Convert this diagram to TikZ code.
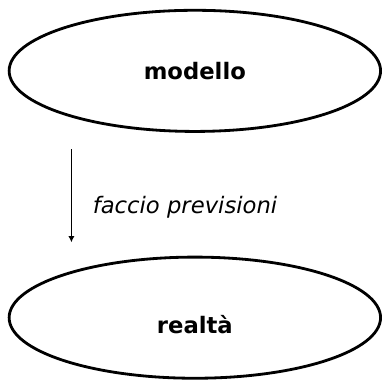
\documentclass[tikz,border=0pt]{standalone}
\usepackage{fontspec}
\setmainfont{DejaVu Sans}
\usetikzlibrary{arrows.meta,positioning,shapes.geometric}

\begin{document}
\begin{tikzpicture}[font=\fontsize{11.3}{13}\selectfont,
    el/.style={ellipse, draw, line width=1.4pt, minimum width=6.5cm,
      minimum height=2.12cm, inner sep=0pt, font=\fontsize{11.3}{13}\selectfont\bfseries},
    fr/.style={-{Latex[length=1.1mm,width=1.1mm]}, line width=0.5pt}]
    \useasboundingbox (0,0) rectangle (6.72,-6.72);
    \node[el] (modello) at (3.41,-1.24) {modello};
    \node[el, below=2.15cm of modello, text height=0.56cm] (realta) {realtà};
    \coordinate (inizio) at (1.25,-2.61);
    \coordinate (fine) at (1.25,-4.24);
    \draw[fr] (inizio) -- (fine);
    \node[anchor=west, font=\fontsize{11.3}{13}\selectfont\itshape] (previsioni)
      at (1.5,-3.62) {faccio previsioni};
  \end{tikzpicture}
\end{document}
